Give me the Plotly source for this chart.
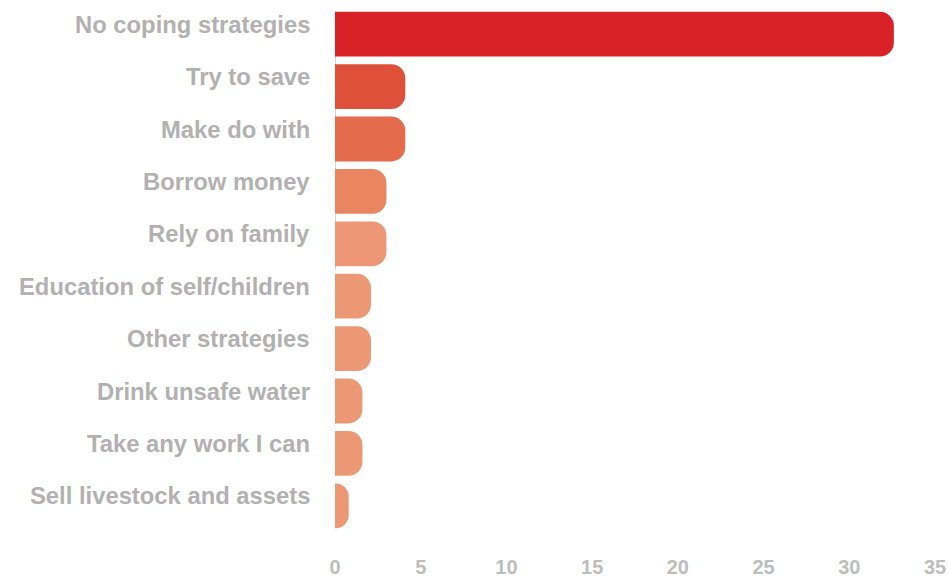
import plotly.graph_objects as go

# Coping strategies and share of respondents (%)
strategies = [
    "No coping strategies",
    "Try to save",
    "Make do with",
    "Borrow money",
    "Rely on family",
    "Education of self/children",
    "Other strategies",
    "Drink unsafe water",
    "Take any work I can",
    "Sell livestock and assets",
]
shares = [32.6, 4.1, 4.1, 3.0, 3.0, 2.1, 2.1, 1.6, 1.6, 0.8]
bar_colors = [
    "#D92228", "#DE503A", "#E46B4B", "#EA8562", "#ED9776",
    "#EC9874", "#EC9874", "#EC9874", "#EC9874", "#EC9874",
]
x_ticks = [0, 5, 10, 15, 20, 25, 30, 35]

label_grey = "#B2B0B0"
font_family = "Liberation Sans, Arial, Helvetica, sans-serif"

fig = go.Figure(
    go.Bar(
        x=shares,
        y=strategies,
        orientation="h",
        marker=dict(color=bar_colors, cornerradius=14, line=dict(width=0)),
        hoverinfo="x+y",
    )
)

# Category labels, set slightly above the bar centres
for name in strategies:
    fig.add_annotation(
        x=0, xref="paper", xanchor="right", xshift=-23,
        y=name, yref="y", yshift=10,
        text=name, showarrow=False,
        font=dict(family=font_family, size=23.8, color=label_grey, weight="bold"),
    )

# Short baseline along the upper bars
fig.add_shape(
    type="line", xref="x", yref="y",
    x0=-0.05, x1=-0.05, y0=-0.42, y1=4.5,
    line=dict(color="#BDBDBD", width=3),
    layer="below",
)

fig.update_layout(
    width=948, height=582,
    margin=dict(l=335, r=13, t=8, b=50, autoexpand=False),
    paper_bgcolor="white", plot_bgcolor="white",
    bargap=0.145,
    showlegend=False,
    xaxis=dict(
        range=[0, 35], tickvals=x_ticks, showgrid=False, zeroline=False,
        showline=False, ticks="outside", ticklen=17, tickcolor="rgba(0,0,0,0)",
        automargin=False,
        tickfont=dict(family=font_family, size=20, color="#BDBDBD", weight="bold"),
    ),
    yaxis=dict(
        autorange="reversed", showticklabels=False, showgrid=False,
        zeroline=False, showline=False, automargin=False,
    ),
)

fig.write_html("out.html")
